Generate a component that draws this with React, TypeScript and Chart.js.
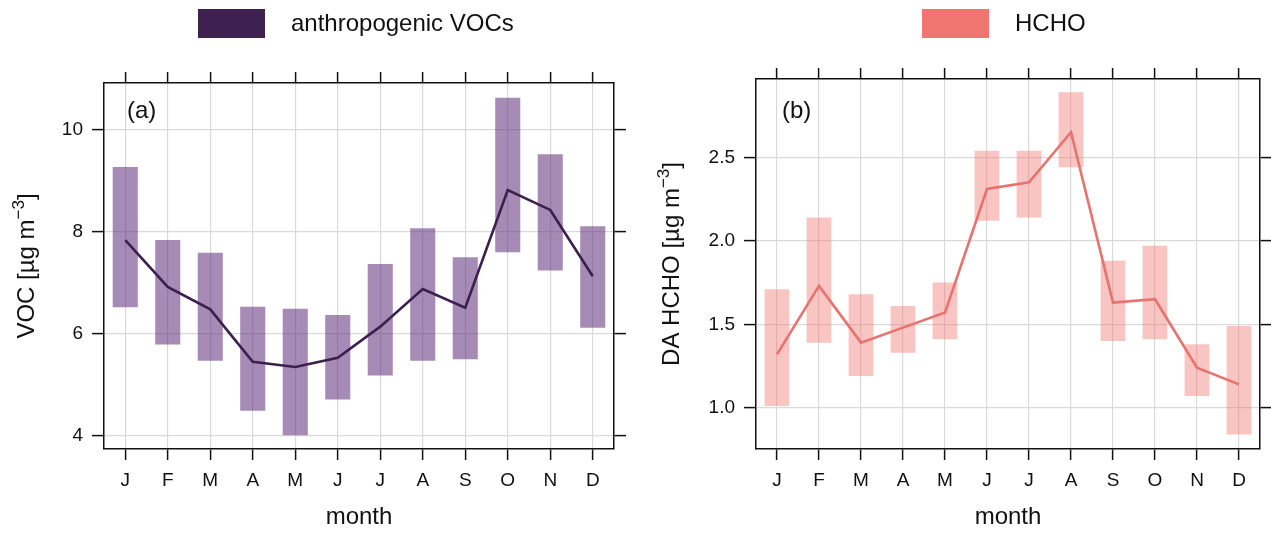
import React, { useEffect, useRef } from 'react';
import { Chart, registerables } from 'chart.js';

Chart.register(...registerables);

const MONTHS = ['J', 'F', 'M', 'A', 'M', 'J', 'J', 'A', 'S', 'O', 'N', 'D'];

const VOC_LOW = [6.52, 5.79, 5.47, 4.49, 4.01, 4.71, 5.18, 5.47, 5.5, 7.6, 7.24, 6.12];
const VOC_HIGH = [9.27, 7.84, 7.59, 6.53, 6.49, 6.37, 7.37, 8.07, 7.5, 10.63, 9.52, 8.11];
const VOC_MEAN = [7.84, 6.92, 6.48, 5.45, 5.35, 5.53, 6.14, 6.88, 6.51, 8.82, 8.43, 7.13];
const VOC_TICKS = [4, 6, 8, 10];

const HCHO_LOW = [1.01, 1.39, 1.19, 1.33, 1.41, 2.12, 2.14, 2.44, 1.4, 1.41, 1.07, 0.84];
const HCHO_HIGH = [1.71, 2.14, 1.68, 1.61, 1.75, 2.54, 2.54, 2.89, 1.88, 1.97, 1.38, 1.49];
const HCHO_MEAN = [1.32, 1.73, 1.39, 1.48, 1.57, 2.31, 2.35, 2.65, 1.63, 1.65, 1.24, 1.14];
const HCHO_TICKS = [1.0, 1.5, 2.0, 2.5];

const FONT = '"Liberation Sans", Arial, Helvetica, sans-serif';

type PanelCfg = {
  width: number;
  height: number;
  areaLeft: number;
  areaRight: number;
  areaTop: number;
  areaBottom: number;
  yMin: number;
  yMax: number;
  yTicks: number[];
  tickFmt: (v: number) => string;
  low: number[];
  high: number[];
  mean: number[];
  barColor: string;
  lineColor: string;
  legendColor: string;
  legendText: string;
  legendX: number;
  panelLabel: string;
  panelLabelX: number;
  yTitleMain: string;
  yTitleSup: string;
  yTitleEnd: string;
  yTitleX: number;
  seriesName: string;
};

function buildChart(canvas: HTMLCanvasElement, c: PanelCfg) {
  const overlay = {
    id: 'overlay',
    afterDraw(chart: any) {
      const ctx = chart.ctx;
      const area = chart.chartArea;
      ctx.save();
      // legend
      ctx.fillStyle = c.legendColor;
      ctx.fillRect(c.legendX, 9, 67, 29);
      ctx.fillStyle = '#111';
      ctx.font = `24px ${FONT}`;
      ctx.textBaseline = 'middle';
      ctx.textAlign = 'left';
      ctx.fillText(c.legendText, c.legendX + 93, 24);
      // panel letter
      ctx.fillText(c.panelLabel, c.panelLabelX, 111);
      // y-axis title with superscript
      const mainFont = `24px ${FONT}`;
      const supFont = `17px ${FONT}`;
      ctx.font = mainFont;
      const w1 = ctx.measureText(c.yTitleMain).width;
      const w3 = ctx.measureText(c.yTitleEnd).width;
      ctx.font = supFont;
      const w2 = ctx.measureText(c.yTitleSup).width;
      const total = w1 + w2 + w3;
      const cy = (area.top + area.bottom) / 2;
      ctx.translate(c.yTitleX, cy);
      ctx.rotate(-Math.PI / 2);
      ctx.textBaseline = 'alphabetic';
      let x = -total / 2;
      const base = 8;
      ctx.font = mainFont;
      ctx.fillText(c.yTitleMain, x, base);
      x += w1;
      ctx.font = supFont;
      ctx.fillText(c.yTitleSup, x, base - 10);
      x += w2;
      ctx.font = mainFont;
      ctx.fillText(c.yTitleEnd, x, base);
      ctx.restore();
    },
  };

  const gridCommon = {
    color: '#d9d9d9',
    lineWidth: 1.2,
    tickColor: '#111',
    tickWidth: 1.5,
  };
  const borderCommon = { display: true, color: '#111', width: 1.5 };
  const setTicks = (s: any) => {
    s.ticks = c.yTicks.map((v) => ({ value: v }));
  };

  return new Chart(canvas, {
    type: 'bar',
    data: {
      labels: MONTHS,
      datasets: [
        {
          type: 'line',
          label: c.seriesName + ' mean',
          data: c.mean,
          borderColor: c.lineColor,
          borderWidth: 2.6,
          pointRadius: 0,
          tension: 0,
          order: 0,
        } as any,
        {
          type: 'bar',
          label: c.seriesName,
          data: c.low.map((l, i) => [l, c.high[i]]),
          backgroundColor: c.barColor,
          borderWidth: 0,
          barPercentage: 0.59,
          categoryPercentage: 1,
          order: 1,
        } as any,
      ],
    },
    options: {
      animation: false,
      responsive: false,
      devicePixelRatio: 1,
      layout: { padding: 0 },
      plugins: {
        legend: { display: false },
        tooltip: { enabled: false },
      },
      scales: {
        x: {
          type: 'category',
          position: 'bottom',
          offset: true,
          grid: { ...gridCommon, offset: false, tickLength: 11 },
          border: borderCommon,
          ticks: {
            color: '#111',
            font: { family: FONT, size: 19 },
            padding: 9,
            maxRotation: 0,
            autoSkip: false,
          },
          title: {
            display: true,
            text: 'month',
            color: '#111',
            font: { family: FONT, size: 24 },
            padding: { top: 0, bottom: 1 },
          },
          afterFit: (s: any) => {
            s.height = c.height - c.areaBottom;
          },
        },
        x2: {
          type: 'category',
          labels: MONTHS,
          position: 'top',
          offset: true,
          grid: { ...gridCommon, offset: false, tickLength: 11, drawOnChartArea: false },
          border: borderCommon,
          ticks: { display: false },
          afterFit: (s: any) => {
            s.height = c.areaTop;
          },
        },
        y: {
          type: 'linear',
          position: 'left',
          min: c.yMin,
          max: c.yMax,
          afterBuildTicks: setTicks,
          grid: { ...gridCommon, tickLength: 12 },
          border: borderCommon,
          ticks: {
            color: '#111',
            font: { family: FONT, size: 19 },
            padding: 9,
            callback: (v: any) => c.tickFmt(Number(v)),
          },
          title: { display: false },
          afterFit: (s: any) => {
            s.width = c.areaLeft;
          },
        },
        y2: {
          type: 'linear',
          position: 'right',
          min: c.yMin,
          max: c.yMax,
          afterBuildTicks: setTicks,
          grid: { ...gridCommon, tickLength: 12, drawOnChartArea: false },
          border: borderCommon,
          ticks: { display: false },
          afterFit: (s: any) => {
            s.width = c.width - c.areaRight;
          },
        },
      },
    },
    plugins: [overlay],
  } as any);
}

function Panel({ cfg, left }: { cfg: PanelCfg; left: number }) {
  const ref = useRef<HTMLCanvasElement>(null);
  useEffect(() => {
    if (!ref.current) return;
    const chart = buildChart(ref.current, cfg);
    return () => chart.destroy();
  }, []);
  return (
    <canvas
      ref={ref}
      width={cfg.width}
      height={cfg.height}
      style={{ position: 'absolute', left, top: 0, width: cfg.width, height: cfg.height }}
    />
  );
}

const vocCfg: PanelCfg = {
  width: 640,
  height: 533,
  areaLeft: 104,
  areaRight: 614,
  areaTop: 83,
  areaBottom: 449,
  yMin: 3.74,
  yMax: 10.92,
  yTicks: VOC_TICKS,
  tickFmt: (v) => String(v),
  low: VOC_LOW,
  high: VOC_HIGH,
  mean: VOC_MEAN,
  barColor: 'rgba(90, 40, 120, 0.54)',
  lineColor: '#3b1f4f',
  legendColor: '#3e2051',
  legendText: 'anthropogenic VOCs',
  legendX: 198,
  panelLabel: '(a)',
  panelLabelX: 127,
  yTitleMain: 'VOC [µg m',
  yTitleSup: '−3',
  yTitleEnd: ']',
  yTitleX: 26,
  seriesName: 'anthropogenic VOCs',
};

const hchoCfg: PanelCfg = {
  width: 631,
  height: 533,
  areaLeft: 116,
  areaRight: 620,
  areaTop: 79,
  areaBottom: 449,
  yMin: 0.753,
  yMax: 2.969,
  yTicks: HCHO_TICKS,
  tickFmt: (v) => v.toFixed(1),
  low: HCHO_LOW,
  high: HCHO_HIGH,
  mean: HCHO_MEAN,
  barColor: 'rgba(240, 116, 112, 0.42)',
  lineColor: '#e8726e',
  legendColor: '#f07470',
  legendText: 'HCHO',
  legendX: 282,
  panelLabel: '(b)',
  panelLabelX: 142,
  yTitleMain: 'DA HCHO [µg m',
  yTitleSup: '−3',
  yTitleEnd: ']',
  yTitleX: 31,
  seriesName: 'HCHO',
};

export default function App() {
  return (
    <div
      style={{
        position: 'absolute',
        left: 0,
        top: 0,
        width: 1271,
        height: 533,
        background: '#fff',
        overflow: 'hidden',
      }}
    >
      <Panel cfg={vocCfg} left={0} />
      <Panel cfg={hchoCfg} left={640} />
    </div>
  );
}
